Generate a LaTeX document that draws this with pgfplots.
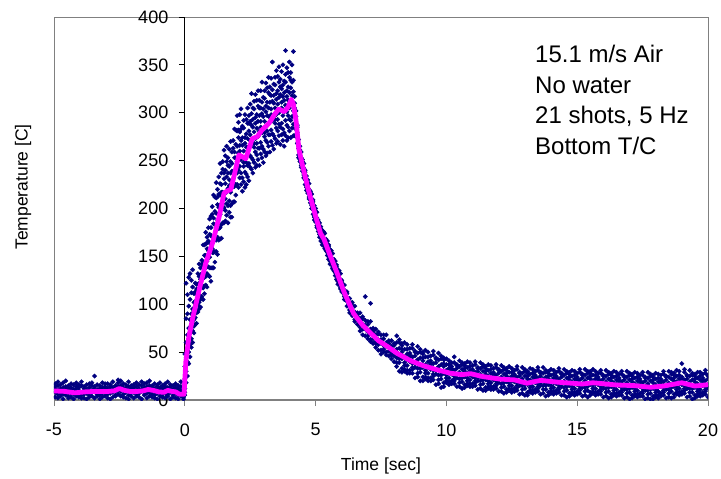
\documentclass[border=0pt]{standalone}
\usepackage{fontspec}
\setmainfont{Liberation Sans}
\usepackage{pgfplots}
\usepackage{pgfplotstable}
\pgfplotsset{compat=1.18}

\definecolor{navypt}{RGB}{0,0,128}
\definecolor{magline}{RGB}{255,0,255}

\pgfplotsset{dots/.style={only marks, mark=square*, mark size=1.55bp,
  mark options={rotate=45}, color=navypt}}

% baseline before the shots
\pgfplotstableread{
t a b c d e
-4.95 3 11 17 8 14
-4.85 6 15 2 10 19
-4.75 12 4 9 16 7
-4.65 1 13 18 6 10
-4.55 9 5 14 11 20
-4.45 15 2 8 12 4
-4.35 7 17 3 10 13
-4.25 11 6 16 1 9
-4.15 4 12 8 18 14
-4.05 13 3 10 7 16
-3.95 8 15 5 19 2
-3.85 2 10 14 6 12
-3.75 16 7 1 11 9
-3.65 5 13 17 3 10
-3.55 10 4 8 15 18
-3.45 14 9 2 12 25
-3.35 6 16 11 4 8
-3.25 12 1 15 9 5
-3.15 3 10 7 18 13
-3.05 9 14 4 11 17
-2.95 17 6 12 2 8
-2.85 1 11 16 7 14
-2.75 8 3 13 19 10
-2.65 12 15 5 9 4
-2.55 6 10 18 14 21
-2.45 15 4 9 12 20
-2.35 3 17 11 6 13
-2.25 10 8 2 16 12
-2.15 14 5 19 9 1
-2.05 7 12 4 15 10
-1.95 11 2 16 8 13
-1.85 4 14 9 18 6
-1.75 16 7 12 3 10
-1.65 9 1 15 11 19
-1.55 13 10 5 17 8
-1.45 2 18 12 7 14
-1.35 8 11 20 4 15
-1.25 15 6 3 13 10
-1.15 5 12 17 9 2
-1.05 10 16 7 1 14
-0.95 13 4 11 18 8
-0.85 3 9 15 6 12
-0.75 11 17 2 14 7
-0.65 6 13 10 19 4
-0.55 14 1 8 12 16
-0.45 9 15 5 11 3
-0.35 2 7 13 17 10
-0.25 12 5 9 1 15
-0.15 4 10 14 7 19
-0.05 1 6 11 3 8
}\base

% heating
\pgfplotstableread{
t a b c d e f
0.00 5 12 22 35 48 8
0.05 18 30 44 60 85 122
0.10 25 40 52 68 90 110
0.15 38 50 62 75 98 128
0.20 45 58 70 84 105 132
0.25 55 64 78 90 112 125
0.30 60 72 86 95 118 136
0.35 70 84 93 102 111 77
0.40 103 79 113 93 122 86
0.45 91 121 102 111 80 116
0.50 113 99 132 92 121 109
0.55 110 129 95 122 102 142
0.60 138 119 131 105 126 97
0.65 108 127 146 118 142 120
0.70 144 105 127 162 117 140
0.75 111 128 140 151 162 119
0.80 151 120 163 138 175 129
0.85 132 170 145 158 118 164
0.90 156 139 180 130 166 151
0.95 149 173 129 164 138 189
1.00 192 160 180 138 172 124
1.05 138 170 202 154 194 158
1.10 190 138 168 214 154 184
1.15 144 167 183 197 212 155
1.20 195 155 211 179 227 167
1.25 170 220 188 204 152 212
1.30 201 179 233 167 215 195
1.35 194 226 168 214 180 247
1.40 237 205 225 183 217 169
1.45 185 217 249 201 241 205
1.50 237 185 215 261 201 231
1.55 187 210 226 240 255 198
1.60 233 193 249 217 265 205
1.65 203 253 221 237 185 245
1.70 230 208 262 196 244 224
1.75 217 249 191 237 203 270
1.80 259 227 247 205 239 191
1.85 207 239 271 223 263 227
1.90 259 207 237 283 223 253
1.95 214 237 253 267 282 225
2.00 265 225 281 249 297 237
2.05 240 290 258 274 222 282
2.10 266 244 298 232 280 260
2.15 251 283 225 271 237 304
2.20 286 254 274 232 266 218
2.25 228 260 292 244 284 248
2.30 274 222 252 298 238 268
2.35 225 248 264 278 293 236
2.40 273 233 289 257 305 245
2.45 247 297 265 281 229 289
2.50 277 255 309 243 291 271
2.55 267 299 241 287 253 320
2.60 305 273 293 251 285 237
2.65 248 280 312 264 304 268
2.70 295 243 273 319 259 289
2.75 245 268 284 298 313 256
2.80 291 251 307 275 323 263
2.85 263 313 281 297 245 305
2.90 291 269 323 257 305 285
2.95 279 311 253 299 265 332
3.00 316 284 304 262 296 248
3.05 259 291 323 275 315 279
3.10 307 255 285 331 271 301
3.15 258 281 297 311 326 269
3.20 305 265 321 289 337 277
3.25 277 327 295 311 259 319
3.30 304 282 336 270 318 298
3.35 292 324 266 312 278 353
3.40 330 298 318 276 310 262
3.45 273 305 337 289 329 293
3.50 320 268 298 344 284 314
3.55 270 293 309 323 338 281
3.60 316 276 332 300 348 288
3.65 285 335 303 319 267 327
3.70 311 289 343 277 325 305
3.75 297 329 271 317 283 350
3.80 333 301 321 279 313 265
3.85 276 308 340 292 332 365
3.90 323 271 301 347 287 317
3.95 274 297 313 327 342 285
4.00 321 281 337 305 353 293
4.05 292 342 310 326 274 334
4.10 318 296 350 284 332 312
4.15 302 334 276 322 288 364
4.20 317 298 310 284 305 276
}\rise

% cooling
\pgfplotstableread{
t a b c d e
4.25 283 289 296 302 287
4.30 285 268 279 274 287
4.35 263 272 256 267 253
4.40 265 251 254 261 249
4.45 245 253 259 243 250
4.50 247 239 251 243 249
4.55 232 237 242 247 235
4.60 238 225 234 230 240
4.65 227 234 222 230 219
4.70 230 218 221 227 216
4.75 212 220 226 210 217
4.80 214 206 218 210 216
4.85 200 205 210 215 203
4.90 207 194 203 199 209
4.95 196 203 191 199 188
5.00 200 188 191 197 186
5.05 182 190 196 180 187
5.10 184 176 188 180 186
5.15 170 175 180 185 173
5.20 179 166 175 171 181
5.25 170 177 165 173 162
5.30 176 164 167 173 162
5.35 160 168 174 158 165
5.40 164 156 168 160 166
5.45 151 156 161 166 154
5.50 160 147 156 152 162
5.55 150 157 145 153 142
5.60 156 144 147 153 142
5.65 139 147 153 137 144
5.70 143 135 147 139 145
5.75 130 135 140 145 133
5.80 139 126 135 131 141
5.85 129 136 124 132 121
5.90 135 123 126 132 121
5.95 118 126 132 116 123
6.00 121 113 125 117 123
6.10 105 110 115 120 108
6.20 111 98 107 103 113
6.30 99 106 94 102 91
6.40 102 90 93 99 88
6.50 84 92 98 82 89
6.60 87 79 91 83 89
6.70 72 78 85 91 76
6.80 85 68 79 74 87
6.90 74 83 67 78 108
7.00 82 67 71 79 64
7.10 63 74 82 61 101
7.20 70 59 75 64 72
7.30 55 61 68 74 59
7.40 69 52 63 58 71
7.50 59 68 52 63 48
7.60 68 53 57 64 50
7.70 50 60 68 47 56
7.80 57 46 62 51 59
7.90 43 49 56 62 47
8.00 57 40 51 46 59
}\decay

% tail
\pgfplotstableread{
t a b c d e f g
8.1 35 44 53 60 67 39 50
8.2 54 30 60 46 39 63 43
8.3 43 57 33 50 29 53 59
8.4 60 36 30 45 53 39 32
8.5 31 48 58 36 42 28 53
8.6 45 28 49 31 54 40 47
8.7 34 54 38 58 28 45 32
8.8 50 39 23 46 34 51 38
8.9 24 33 42 49 56 28 39
9.0 44 20 50 36 29 53 33
9.1 34 48 24 41 20 44 50
9.2 52 28 22 37 45 31 24
9.3 23 40 50 28 34 20 45
9.4 37 20 41 23 46 32 39
9.5 27 47 31 51 21 38 25
9.6 43 32 16 39 27 44 31
9.7 17 26 35 42 49 21 32
9.8 37 13 43 29 22 46 26
9.9 28 42 18 35 14 38 44
10.0 43 23 18 31 37 26 20
10.1 19 33 41 23 28 16 37
10.2 31 17 35 20 39 27 33
10.3 22 39 25 45 17 31 20
10.4 36 27 14 33 23 37 26
10.5 14 22 29 35 41 18 27
10.6 32 12 37 25 19 39 23
10.7 24 36 16 30 13 33 38
10.8 40 20 15 28 34 23 17
10.9 17 31 39 21 26 14 35
11.0 28 14 32 17 36 24 30
11.1 20 37 23 40 15 29 18
11.2 33 24 11 30 20 34 23
11.3 12 20 27 33 39 16 25
11.4 30 10 35 23 17 37 21
11.5 21 33 13 27 10 30 35
11.6 37 17 12 25 31 20 14
11.7 14 28 36 18 23 11 32
11.8 25 11 29 14 33 21 27
11.9 17 34 20 37 12 26 15
12.0 31 22 9 28 18 32 21
12.1 9 17 24 30 36 13 22
12.2 27 7 32 20 14 34 18
12.3 19 31 11 25 8 28 33
12.4 35 15 10 23 29 18 12
12.5 11 25 33 15 20 8 29
12.6 23 9 27 12 31 19 25
12.7 15 32 18 35 10 24 13
12.8 28 19 6 25 15 29 18
12.9 7 15 22 28 34 11 20
13.0 25 5 30 18 12 32 16
13.1 16 28 8 22 5 25 30
13.2 33 13 8 21 27 16 10
13.3 10 24 32 14 19 7 28
13.4 22 8 26 11 30 18 24
13.5 14 31 17 34 9 23 12
13.6 28 19 6 25 15 29 18
13.7 7 15 22 28 34 11 20
13.8 24 4 29 17 11 31 15
13.9 16 28 8 22 5 25 30
14.0 32 12 7 20 26 15 9
14.1 9 23 31 13 18 6 27
14.2 21 7 25 10 29 17 23
14.3 13 30 16 33 8 22 11
14.4 27 18 5 24 14 28 17
14.5 5 13 20 26 32 9 18
14.6 23 3 28 16 10 30 14
14.7 15 27 7 21 4 24 29
14.8 31 11 6 19 25 14 8
14.9 8 22 30 12 17 5 26
15.0 20 6 24 9 28 16 22
15.1 12 29 15 32 7 21 10
15.2 26 17 4 23 13 27 16
15.3 5 13 20 26 32 9 18
15.4 23 3 28 16 10 30 14
15.5 16 28 8 22 5 25 30
15.6 32 12 7 20 26 15 9
15.7 8 22 30 12 17 5 26
15.8 20 6 24 9 28 16 22
15.9 11 28 14 31 6 20 9
16.0 25 16 3 22 12 26 15
16.1 4 12 19 25 31 8 17
16.2 22 2 27 15 9 29 13
16.3 14 26 6 20 3 23 28
16.4 30 10 5 18 24 13 7
16.5 7 21 29 11 16 4 25
16.6 19 5 23 8 27 15 21
16.7 10 27 13 30 5 19 8
16.8 24 15 2 21 11 25 14
16.9 3 11 18 24 30 7 16
17.0 21 1 26 14 8 28 12
17.1 13 25 5 19 2 22 27
17.2 29 9 4 17 23 12 6
17.3 6 20 28 10 15 3 24
17.4 18 4 22 7 26 14 20
17.5 9 26 12 29 4 18 7
17.6 23 14 1 20 10 24 13
17.7 2 10 17 23 29 6 15
17.8 20 1 25 13 7 27 11
17.9 12 24 4 18 1 21 26
18.0 28 8 3 16 22 11 5
18.1 5 19 27 9 14 2 23
18.2 18 4 22 7 26 14 20
18.3 10 27 13 30 5 19 8
18.4 24 15 2 21 11 25 14
18.5 3 11 18 24 30 7 16
18.6 22 2 27 15 9 29 13
18.7 14 26 6 20 3 23 28
18.8 31 11 6 19 25 14 8
18.9 8 22 30 12 17 5 26
19.0 20 6 24 9 38 16 22
19.1 12 29 15 32 7 21 10
19.2 25 16 3 22 12 26 15
19.3 4 12 19 25 31 8 17
19.4 21 1 26 14 8 28 12
19.5 13 25 5 19 2 22 27
19.6 29 9 4 17 23 12 6
19.7 7 21 29 11 16 4 25
19.8 19 5 23 8 27 15 21
19.9 11 28 14 31 6 20 9
20.0 25 16 3 22 12 26 15
}\tail

\begin{document}
\begin{tikzpicture}
\useasboundingbox (-54bp,-79bp) rectangle (667bp,400bp);
\begin{axis}[
  scale only axis,
  width=654bp, height=383bp,
  xmin=-5, xmax=20, ymin=0, ymax=400,
  enlargelimits=false,
  clip marker paths=true,
  axis lines=middle,
  hide obscured x ticks=false,
  hide obscured y ticks=false,
  x axis line style={-, gray, line width=1.6bp},
  y axis line style={-, black, line width=0.8bp},
  axis background/.style={draw=gray, line width=0.8bp},
  xtick={-5,0,5,10,15,20},
  xticklabels={-5,0,5,10,15,20},
  ytick={0,50,...,400},
  yticklabels={0,50,100,150,200,250,300,350,400},
  tick align=outside,
  major tick length=6bp,
  x tick style={gray, line width=0.8bp},
  y tick style={black, line width=0.8bp},
  tick label style={font=\fontsize{18bp}{21bp}\selectfont},
  xticklabel style={yshift=-14bp},
  yticklabel style={xshift=-7bp},
  label style={font=\fontsize{17.5bp}{21bp}\selectfont},
  xlabel={Time [sec]},
  xlabel style={at={(axis description cs:0.5,0)}, anchor=center, yshift=-66bp},
  ylabel={Temperature [C]},
  ylabel style={at={(axis description cs:0,0.392)}, anchor=west, inner sep=0pt,
    xshift=-31bp, rotate=90},
]
\pgfplotsinvokeforeach{a,b,c,d,e}{\addplot[dots] table[x=t,y=#1]{\base};}
\pgfplotsinvokeforeach{a,b,c,d,e,f}{\addplot[dots] table[x=t,y=#1]{\rise};}
\pgfplotsinvokeforeach{a,b,c,d,e}{\addplot[dots] table[x=t,y=#1]{\decay};}
\pgfplotsinvokeforeach{a,b,c,d,e,f,g}{\addplot[dots] table[x=t,y=#1]{\tail};}

\addplot[magline, line width=4.8bp, line join=round, no marks] coordinates {
(-5,9.5) (-4.6,9) (-4.2,7.5) (-3.8,8.5) (-3.4,9) (-3,8.8) (-2.7,9.5) (-2.5,12)
(-2.3,10) (-2.1,9) (-1.9,8.7) (-1.6,9.5) (-1.4,11) (-1.2,10) (-1.0,8.5) (-0.8,8)
(-0.65,10) (-0.5,9) (-0.35,8.5) (-0.2,6) (-0.03,6) (0.04,40) (0.15,65) (0.29,84)
(0.55,115) (0.8,143) (1.06,164) (1.31,191) (1.5,216) (1.6,218) (1.76,220) (1.9,236)
(2.07,256) (2.2,254) (2.33,252) (2.45,262) (2.58,273) (2.77,275) (2.95,282) (3.22,289)
(3.45,299) (3.6,304) (3.8,301) (3.95,306) (4.07,314) (4.15,309) (4.25,292) (4.36,262)
(4.5,245) (4.7,222) (4.87,205) (5.0,192) (5.19,174) (5.32,168) (5.57,150) (5.83,132)
(6.1,112) (6.46,90) (6.8,78) (7.1,70) (7.4,62) (7.74,56) (8.1,49) (8.63,41)
(9.1,36) (9.65,31.5) (10.15,28) (10.6,26.5) (10.93,27.5) (11.4,24.4) (12.06,21.8) (12.6,21)
(13.08,17.5) (13.6,20.5) (14.3,18.5) (15.2,16.7) (15.6,18) (16.5,15.7) (17.2,15) (17.8,13.3)
(18.3,14.6) (19.0,18) (19.5,14.6) (20,16)
};

\node[anchor=north west, align=left, inner sep=0pt,
  font=\fontsize{24bp}{30.5bp}\selectfont] at (rel axis cs:0.7355,0.927)
  {15.1 m/s Air\\No water\\21 shots, 5 Hz\\Bottom T/C};
\end{axis}
\end{tikzpicture}
\end{document}
